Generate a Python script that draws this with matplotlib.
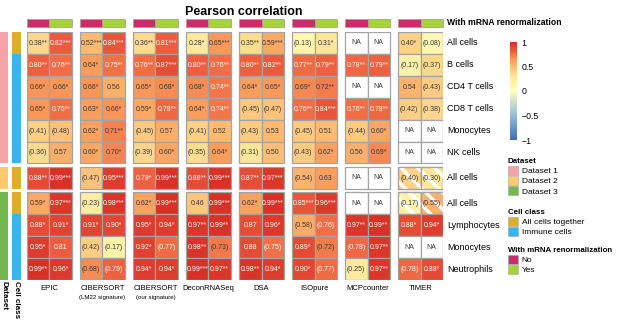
import matplotlib.pyplot as plt
from matplotlib.patches import Rectangle, Patch
from matplotlib.colors import LinearSegmentedColormap, Normalize
import matplotlib.cm as cm

plt.rcParams['font.family'] = ['Liberation Sans', 'DejaVu Sans']
plt.rcParams['hatch.linewidth'] = 2.5

# methods (column groups) and rows
methods = ['EPIC', 'CIBERSORT', 'CIBERSORT', 'DeconRNASeq', 'DSA', 'ISOpure', 'MCPcounter', 'TIMER']
method_notes = ['', '(LM22 signature)', '(our signature)', '', '', '', '', '']
row_labels = ['All cells', 'B cells', 'CD4 T cells', 'CD8 T cells', 'Monocytes', 'NK cells',
              'All cells', 'All cells', 'Lymphocytes', 'Monocytes', 'Neutrophils']
row_block = [0, 0, 0, 0, 0, 0, 1, 2, 2, 2, 2]
row_dataset = ['Dataset 1'] * 6 + ['Dataset 2'] + ['Dataset 3'] * 4
row_cellclass = ['All cells together'] + ['Immune cells'] * 5 + ['All cells together'] * 2 + ['Immune cells'] * 3

# cell labels, one list per method and renormalization (No / Yes)
epic_no = ['0.38**', '0.80**', '0.66*', '0.65*', '(0.41)', '(0.36)', '0.88**', '0.59*', '0.88*', '0.95*', '0.99**']
epic_yes = ['0.82***', '0.76**', '0.66*', '0.76**', '(0.48)', '0.57', '0.99***', '0.97***', '0.91*', '0.81', '0.96*']
lm22_no = ['0.52***', '0.64*', '0.66*', '0.63*', '0.62*', '0.60*', '(0.47)', '(0.23)', '0.91*', '(0.42)', '(0.68)']
lm22_yes = ['0.84***', '0.75**', '0.56', '0.66*', '0.71**', '0.70*', '0.95***', '0.98***', '0.90*', '(0.17)', '(0.79)']
cibs_no = ['0.36**', '0.76**', '0.65*', '0.59*', '(0.45)', '(0.39)', '0.79*', '0.62*', '0.95*', '0.92*', '0.94*']
cibs_yes = ['0.81***', '0.87***', '0.68*', '0.78**', '0.57', '0.60*', '0.99***', '0.99***', '0.94*', '(0.77)', '0.94*']
decon_no = ['0.28*', '0.80**', '0.68*', '0.64*', '(0.41)', '(0.35)', '0.88**', '0.46', '0.97**', '0.98**', '0.99***']
decon_yes = ['0.65***', '0.76**', '0.74**', '0.74**', '0.52', '0.64*', '0.99***', '0.99***', '0.99**', '(0.73)', '0.97**']
dsa_no = ['0.35**', '0.80**', '0.64*', '(0.45)', '(0.43)', '(0.31)', '0.87**', '0.62*', '0.87', '0.88', '0.98**']
dsa_yes = ['0.59***', '0.82**', '0.65*', '(0.47)', '0.53', '0.50', '0.97***', '0.99***', '0.96*', '(0.75)', '0.94*']
iso_no = ['(0.13)', '0.77**', '0.69*', '0.76**', '(0.45)', '(0.43)', '(0.54)', '0.85***', '(0.58)', '0.89*', '0.90*']
iso_yes = ['0.31*', '0.79**', '0.72**', '0.84***', '0.51', '0.62*', '0.63', '0.96***', '(0.76)', '(0.72)', '(0.77)']
mcp_no = ['NA', '0.78**', 'NA', '0.76**', '(0.44)', '0.56', 'NA', 'NA', '0.97**', '(0.78)', '(0.25)']
mcp_yes = ['NA', '0.79**', 'NA', '0.78**', '0.60*', '0.69*', 'NA', 'NA', '0.99**', '0.97**', '0.97**']
timer_no = ['0.40*', '(0.17)', '0.54', '(0.42)', 'NA', 'NA', '(0.40)', '(0.17)', '0.88*', 'NA', '(0.78)']
timer_yes = ['(0.08)', '(0.37)', '(0.43)', '(0.38)', 'NA', 'NA', '(0.30)', '(0.55)', '0.94*', 'NA', '0.88*']
timer_hatched_rows = [6, 7]

columns = [epic_no, epic_yes, lm22_no, lm22_yes, cibs_no, cibs_yes, decon_no, decon_yes,
           dsa_no, dsa_yes, iso_no, iso_yes, mcp_no, mcp_yes, timer_no, timer_yes]

dataset_colors = {'Dataset 1': '#F5A3A9', 'Dataset 2': '#FDCB6E', 'Dataset 3': '#74B84F'}
cellclass_colors = {'All cells together': '#DDAE2A', 'Immune cells': '#38B6EC'}
renorm_colors = {'No': '#C92E6B', 'Yes': '#A5D23D'}

cmap = LinearSegmentedColormap.from_list('corr', [
    (0.0, '#3E6DAF'), (0.25, '#91BFDB'), (0.5, '#FFFFBF'), (0.65, '#FEE79A'),
    (0.75, '#FDBE76'), (0.825, '#F99A5B'), (0.9, '#EE5F3F'), (1.0, '#D73027')])
norm = Normalize(-1, 1)

edge = '#A3A3A3'
dark = '#3A3A3A'
gx = 0.36   # gap between method blocks (cell units)
gy = 0.16   # gap between row blocks

def col_x(j):
    return (j // 2) * (2 + gx) + (j % 2)

def row_y(i):
    return i + row_block[i] * gy

W = col_x(len(columns) - 1) + 1
H = row_y(len(row_labels) - 1) + 1

fig = plt.figure(figsize=(6.17, 3.23), dpi=100)
ax = fig.add_axes([27 / 617, 1 - 280 / 323, 416 / 617, 248 / 323])
ax.set_xlim(0, W)
ax.set_ylim(H, 0)
ax.axis('off')

# heatmap cells
for j, col in enumerate(columns):
    x = col_x(j)
    for i, lab in enumerate(col):
        y = row_y(i)
        if lab == 'NA':
            ax.add_patch(Rectangle((x, y), 1, 1, facecolor='white', edgecolor=edge, lw=0.9))
            ax.text(x + 0.5, y + 0.5, 'NA', ha='center', va='center', fontsize=5, color=dark)
            continue
        v = float(lab.strip('()*'))
        ax.add_patch(Rectangle((x, y), 1, 1, facecolor=cmap(norm(v)), edgecolor=edge, lw=0.9))
        hatched = j >= 14 and i in timer_hatched_rows
        if hatched:
            ax.add_patch(Rectangle((x, y), 1, 1, facecolor='none', edgecolor='white', lw=0, hatch='\\\\'))
            ax.add_patch(Rectangle((x, y), 1, 1, facecolor='none', edgecolor=edge, lw=0.9))
        tc = 'white' if (v >= 0.74 and not hatched) else dark
        ax.text(x + 0.5, y + 0.52, lab, ha='center', va='center', fontsize=5, color=tc)

# top annotation: renormalization
for j in range(len(columns)):
    key = 'No' if j % 2 == 0 else 'Yes'
    ax.add_patch(Rectangle((col_x(j), -0.6), 1, 0.37, facecolor=renorm_colors[key],
                           edgecolor=edge, lw=0.6, clip_on=False))
ax.text(W + 0.18, -0.42, 'With mRNA renormalization', fontsize=6.2, fontweight='bold',
        ha='left', va='center')

# left annotations
for i in range(len(row_labels)):
    y = row_y(i)
    ax.add_patch(Rectangle((-1.2, y), 0.35, 1, facecolor=dataset_colors[row_dataset[i]],
                           edgecolor='none', clip_on=False))
    ax.add_patch(Rectangle((-0.67, y), 0.4, 1, facecolor=cellclass_colors[row_cellclass[i]],
                           edgecolor='none', clip_on=False))
    ax.text(W + 0.18, y + 0.5, row_labels[i], fontsize=6.5, ha='left', va='center')

ax.text(-1.03, H + 0.05, 'Dataset', rotation=-90, fontsize=5.8, fontweight='bold', ha='center', va='top')
ax.text(-0.47, H + 0.05, 'Cell class', rotation=-90, fontsize=5.8, fontweight='bold', ha='center', va='top')

# method labels
for b, (m, note) in enumerate(zip(methods, method_notes)):
    cx = col_x(2 * b) + 1
    ax.text(cx, H + 0.4, m, fontsize=5.5, ha='center', va='center')
    if note:
        ax.text(cx, H + 0.78, note, fontsize=4.4, ha='center', va='center')

fig.text(244 / 617, 1 - 12 / 323, 'Pearson correlation', fontsize=9, fontweight='bold',
         ha='center', va='center')

# colorbar
cax = fig.add_axes([510 / 617, 1 - 140 / 323, 7 / 617, 98 / 323])
cb = fig.colorbar(cm.ScalarMappable(norm=norm, cmap=cmap), cax=cax, ticks=[-1, -0.5, 0, 0.5, 1])
cb.outline.set_visible(False)
cb.ax.set_yticklabels(['\u22121', '\u22120.5', '0', '0.5', '1'])
cb.ax.tick_params(length=0, labelsize=6.3, pad=3)

# discrete legends
def add_legend(title, colors, top):
    handles = [Patch(facecolor=c, edgecolor=edge, lw=0.4, label=k) for k, c in colors.items()]
    leg = fig.legend(handles=handles, title=title, loc='upper left',
                     bbox_to_anchor=(508 / 617, 1 - top / 323), frameon=False,
                     fontsize=6, title_fontproperties={'weight': 'bold', 'size': 5.7},
                     alignment='left', handlelength=1.25, handleheight=1.3,
                     handletextpad=0.4, labelspacing=0.1, borderpad=0, borderaxespad=0)
    return leg

add_legend('Dataset', dataset_colors, 158)
add_legend('Cell class', cellclass_colors, 209)
add_legend('With mRNA renormalization', renorm_colors, 247)

fig.savefig('out.png', dpi=100)
